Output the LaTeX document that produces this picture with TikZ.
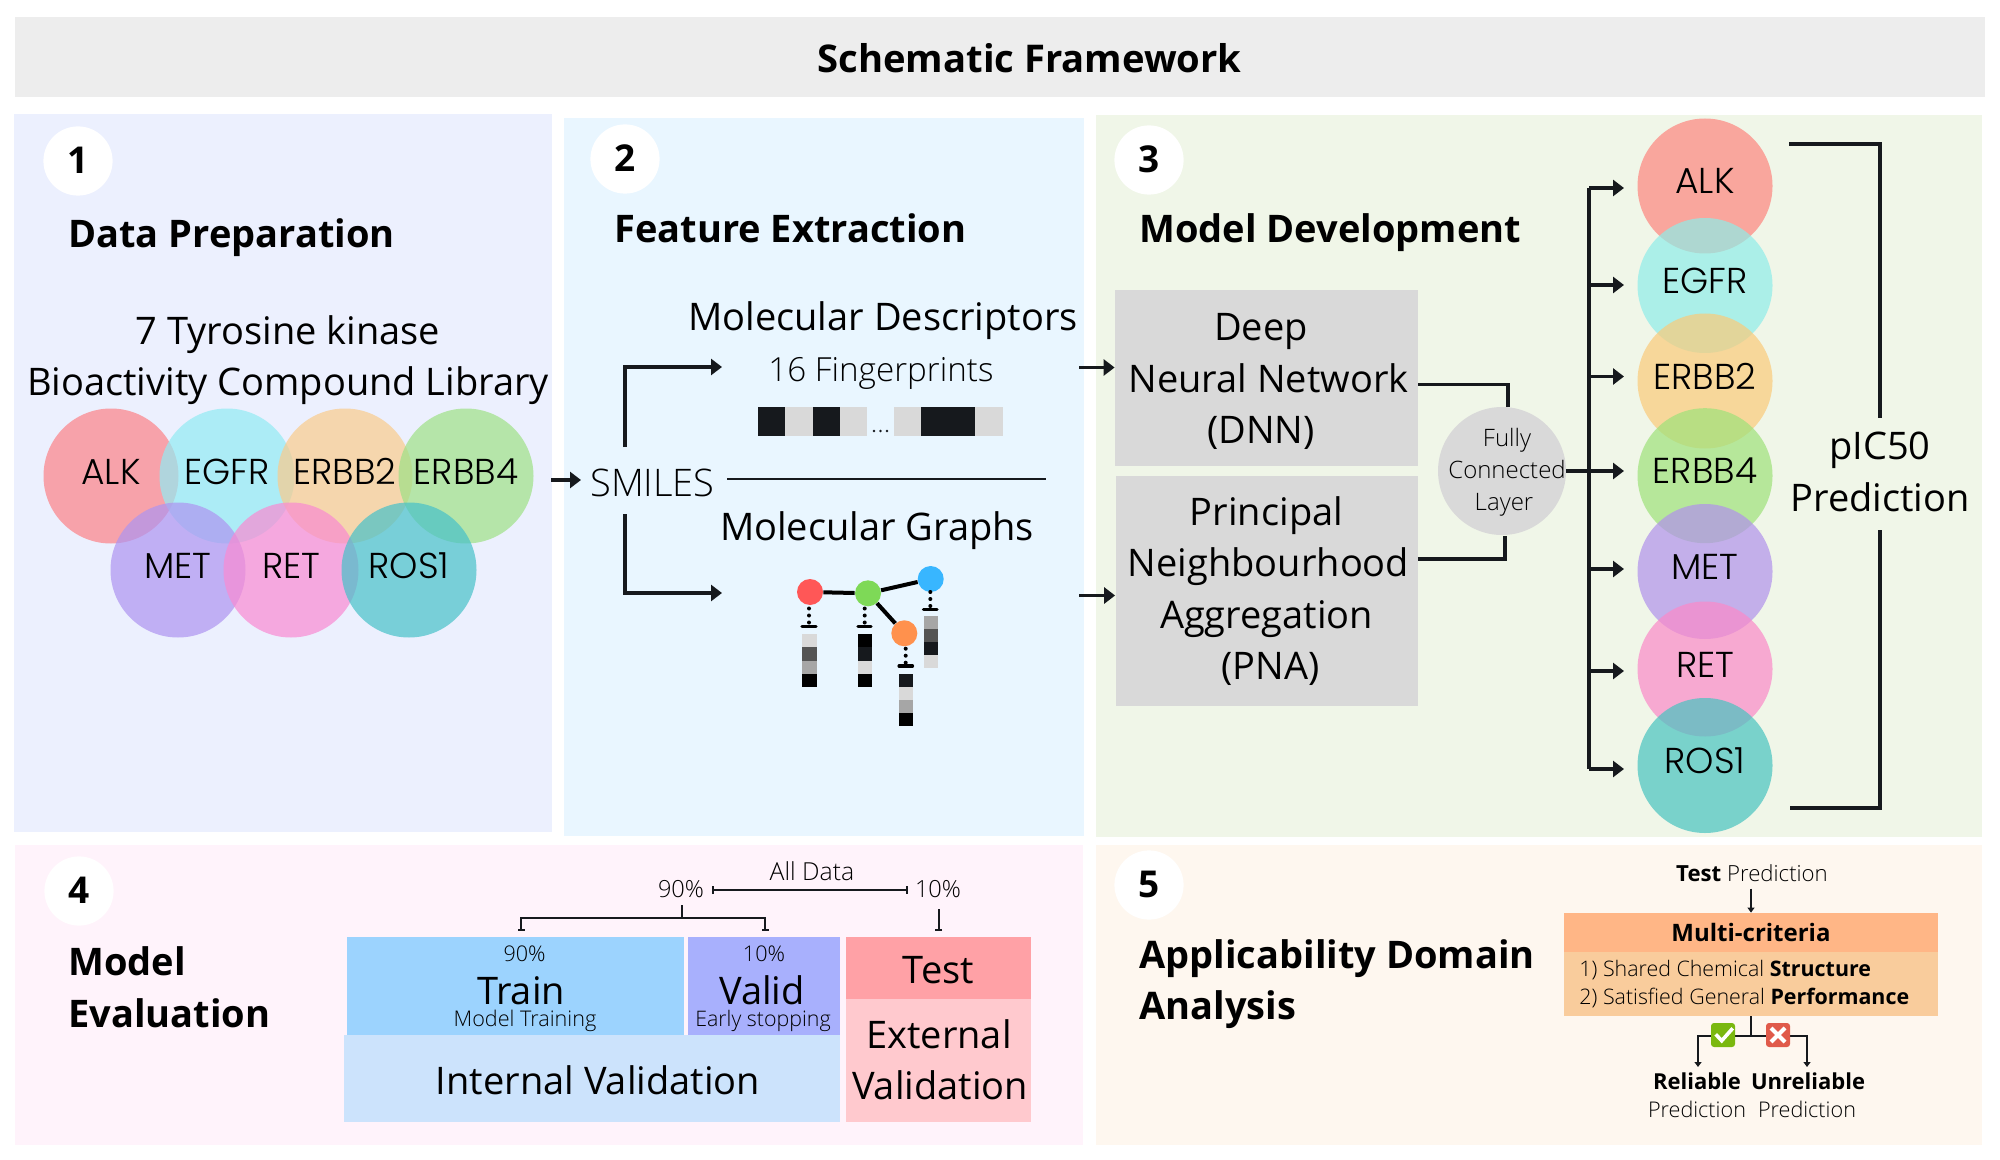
\documentclass[tikz,border=0pt]{standalone}
\usepackage{fontspec}
\usetikzlibrary{arrows.meta}
\setmainfont{Open Sans}
\newfontfamily\oslight{Open Sans Light}
\newfontfamily\circfont{Poppins Light}
\definecolor{pTitle}{HTML}{EDEDED}
\definecolor{pOne}{HTML}{ECF0FE}
\definecolor{pTwo}{HTML}{E9F6FF}
\definecolor{pThree}{HTML}{F0F6E8}
\definecolor{pFour}{HTML}{FFF3FB}
\definecolor{pFive}{HTML}{FEF7EF}
\definecolor{cALK}{RGB}{252,130,135}
\definecolor{cEGFR}{RGB}{146,235,243}
\definecolor{cERBBtwo}{RGB}{249,203,140}
\definecolor{cERBBfour}{RGB}{158,225,134}
\definecolor{cMET}{RGB}{174,148,241}
\definecolor{cRET}{RGB}{249,138,210}
\definecolor{cROS}{RGB}{71,193,201}
\definecolor{dALK}{RGB}{253,133,126}
\definecolor{dEGFR}{RGB}{143,237,232}
\definecolor{dERBBtwo}{RGB}{250,202,122}
\definecolor{dERBBfour}{RGB}{158,225,122}
\definecolor{dMET}{RGB}{177,145,236}
\definecolor{dRET}{RGB}{251,137,200}
\definecolor{dROS}{RGB}{71,195,192}
\definecolor{gBlk}{HTML}{16191D}
\definecolor{gLgt}{HTML}{D9D9D9}
\definecolor{gMid}{HTML}{A6A6A6}
\definecolor{gDrk}{HTML}{545454}
\definecolor{aRed}{HTML}{FF5757}
\definecolor{aGreen}{HTML}{7ED957}
\definecolor{aBlue}{HTML}{38B6FF}
\definecolor{aOrange}{HTML}{FF914D}
\definecolor{cTrain}{HTML}{9CD3FE}
\definecolor{cValid}{HTML}{A8B0FD}
\definecolor{cTest}{HTML}{FFA1A6}
\definecolor{cExt}{HTML}{FFC9CE}
\definecolor{cInt}{HTML}{CCE3FC}
\definecolor{cHead}{HTML}{FFB686}
\definecolor{cBody}{HTML}{F9CC9C}
\definecolor{cOk}{HTML}{7AB80F}
\definecolor{cNo}{HTML}{E05A4A}
\tikzset{
  x=0.5pt,y=-0.5pt,
  target/.style={circle,fill=#1,fill opacity=.7,text opacity=1,minimum size=67.5pt,inner sep=0pt,
    text height=13pt,text depth=5pt,font=\circfont\fontsize{18}{20}\selectfont},
  numdisc/.style={circle,fill=white,minimum size=34.6pt,inner sep=0pt,text height=12.5pt,text depth=0pt,font=\bfseries\fontsize{18.5}{20}\selectfont},
  head/.style={anchor=base west,inner sep=0pt,font=\bfseries\fontsize{19}{24}\selectfont},
  txt/.style={anchor=base,inner sep=0pt,font=\fontsize{19}{24}\selectfont},
  lighttxt/.style={anchor=base,inner sep=0pt,font=\oslight\fontsize{#1}{24}\selectfont},
  conn/.style={draw=gBlk,line width=1.75pt,-{Triangle[length=5.5pt,width=8pt]}},
  wire/.style={draw=gBlk,line width=1.75pt},
  thin wire/.style={draw=gBlk,line width=1pt},
  atom/.style={circle,fill=#1,minimum size=13pt,inner sep=0pt},
  bond/.style={draw=black,line width=2pt},
  dots/.style={draw=black,line width=2pt,line cap=round,dash pattern=on 0pt off 3.5pt},
  capbar/.style={draw=black,line width=1.6pt,line cap=round},
  gbox/.style={fill=gLgt,inner sep=0pt,align=center,font=\fontsize{19}{25.6}\selectfont},
  cellbox/.style={fill=#1,inner sep=0pt,align=center},
}
\begin{document}
\begin{tikzpicture}
\useasboundingbox (0,0) rectangle (2000,1160);
\fill[white] (0,0) rectangle (2000,1160);
% panels
\fill[pTitle] (15,17) rectangle (1985,97);
\fill[pOne] (14,114) rectangle (552,832);
\fill[pTwo] (564,118) rectangle (1084,836);
\fill[pThree] (1096,115) rectangle (1982,837);
\fill[pFour] (15,845) rectangle (1083,1145);
\fill[pFive] (1096,845) rectangle (1982,1145);
\node[anchor=base,inner sep=0pt,font=\bfseries\fontsize{19.1}{24}\selectfont] (title) at (1029.5,72.5) {Schematic Framework};
% numbers and headings
\node[numdisc] (n1) at (78,161) {1};
\node[numdisc] (n2) at (625,159) {2};
\node[numdisc] (n3) at (1149,160) {3};
\node[numdisc] (n4) at (79,891) {4};
\node[numdisc] (n5) at (1149,885) {5};
\node[head] (h1) at (68,248) {Data Preparation};
\node[head] (h2) at (614,243) {Feature Extraction};
\node[head] (h3) at (1139,243) {Model Development};
\node[head] (h4a) at (68,975) {Model};
\node[head] (h4b) at (68,1027) {Evaluation};
\node[head] (h5a) at (1139,968) {Applicability Domain};
\node[head] (h5b) at (1139,1019) {Analysis};
% panel 1
\node[txt] (lib1) at (288,344) {7 Tyrosine kinase};
\node[txt] (lib2) at (288,395) {Bioactivity Compound Library};
\node[target=cALK] (a1) at (111,476) {ALK};
\node[target=cEGFR] (a2) at (227,476) {EGFR};
\node[target=cERBBtwo] (a3) at (345,476) {ERBB2};
\node[target=cERBBfour] (a4) at (466,476) {ERBB4};
\node[target=cMET] (a5) at (178,570) {MET};
\node[target=cRET] (a6) at (291,570) {RET};
\node[target=cROS] (a7) at (409,570) {ROS1};
% panel 2
\node[lighttxt=19] (smiles) at (652.5,496) {SMILES};
\coordinate (inS) at (551,480);
\coordinate (inT) at (581,480);
\draw[conn] (inS) -- (inT);
\coordinate (upS) at (625,447);
\coordinate (upT) at (722,367);
\coordinate (dnS) at (625,514);
\coordinate (dnT) at (722,593);
\draw[conn] (upS) |- (upT);
\draw[conn] (dnS) |- (dnT);
\node[txt] (md) at (883,330) {Molecular Descriptors};
\node[lighttxt=16.6] (fp) at (881,381) {16 Fingerprints};
\foreach \xa/\xb/\c in {758/785/gBlk,785/812.5/gLgt,812.5/840/gBlk,840/867/gLgt,894/921/gLgt,921/948/gBlk,948/975/gBlk,975/1003/gLgt}
  \fill[\c] (\xa,407) rectangle (\xb,436);
\foreach \x in {874,880.5,887} \fill[gBlk] (\x,431) circle (0.7pt);
\coordinate (divL) at (727,479);
\coordinate (divR) at (1046,479);
\draw[draw=gBlk,line width=.9pt] (divL) -- (divR);
\node[txt] (mg) at (877,540) {Molecular Graphs};
\node[atom=aRed] (gr) at (810,592) {};
\node[atom=aGreen] (gg) at (868,593.3) {};
\node[atom=aBlue] (gb) at (930.7,579) {};
\node[atom=aOrange] (go) at (904.3,633.3) {};
\draw[bond] (gr) -- (gg);
\draw[bond] (gg) -- (gb);
\draw[bond] (gg) -- (go);
\draw[dots] (809,608.5) -- (809,623);
\draw[dots] (864.7,608.5) -- (864.7,623);
\draw[dots] (905.7,648.7) -- (905.7,663);
\draw[dots] (930.3,592) -- (930.3,606.5);
\draw[capbar] (802,626.5) -- (816,626.5);
\draw[capbar] (858,626.5) -- (871,626.5);
\draw[capbar] (899,666) -- (912.5,666);
\draw[capbar] (923.5,609.7) -- (937,609.7);
\foreach \c [count=\i from 0] in {gLgt,gDrk,gMid,black}
  \fill[\c] (802,634.3+13.1*\i) rectangle (816.5,647.4+13.1*\i);
\foreach \c [count=\i from 0] in {black,gBlk,gLgt,black}
  \fill[\c] (858,634.3+13.1*\i) rectangle (872.3,647.4+13.1*\i);
\foreach \c [count=\i from 0] in {gBlk,gLgt,gMid,black}
  \fill[\c] (899,673.7+13.1*\i) rectangle (913.3,686.8+13.1*\i);
\foreach \c [count=\i from 0] in {gMid,gDrk,gBlk,gLgt}
  \fill[\c] (923.7,615.7+13.1*\i) rectangle (938,628.8+13.1*\i);
\coordinate (feA) at (1079,367.5);
\coordinate (feB) at (1079,595.5);
% panel 3
\node[gbox,minimum width=151.5pt,minimum height=88pt] (dnn) at (1266.5,378) {};
\node[anchor=center,inner sep=0pt,align=center,font=\fontsize{19}{25.6}\selectfont] (dnnt) at (1266,381.5) {Deep\kern 5pt\\\kern 2.5pt Neural Network\\(DNN)\kern 5pt};
\node[gbox,minimum width=151pt,minimum height=115pt] (pna) at (1266.5,591) {};
\node[anchor=center,inner sep=0pt,align=center,font=\fontsize{19}{25.8}\selectfont] (pnat) at (1266.5,591) {Principal\\\kern 2pt Neighbourhood\\Aggregation\\\kern 4pt (PNA)};
\draw[conn] (feA) -- (dnn.west |- feA);
\draw[conn] (feB) -- (pna.west |- feB);
\node[circle,fill=gLgt,minimum size=64pt,inner sep=-10pt] (fc) at (1502,471) {};
\node[anchor=center,inner sep=0pt,align=center,font=\oslight\fontsize{12}{16}\selectfont] (fct) at (1507,472) {Fully\\Connected\\Layer\kern 3pt};
\draw[wire] (dnn.east |- 0,384.6) -| (1508,407);
\draw[wire] (pna.east |- 0,559) -| (1505,535.6);
\node[target=dALK] (t1) at (1705,186) {ALK};
\node[target=dEGFR] (t2) at (1705,285.5) {EGFR};
\node[target=dERBBtwo] (t3) at (1705,381) {ERBB2};
\node[target=dERBBfour] (t4) at (1705,475.7) {ERBB4};
\node[target=dMET] (t5) at (1705,571.5) {MET};
\node[target=dRET] (t6) at (1705,669) {RET};
\node[target=dROS] (t7) at (1705,765.5) {ROS1};
\coordinate (busT) at (1589,188);
\coordinate (busB) at (1589,769);
\coordinate (tip1) at (1624,188);
\coordinate (tip2) at (1624,285);
\coordinate (tip3) at (1624,376.5);
\coordinate (tip4) at (1624,471);
\coordinate (tip5) at (1624,569);
\coordinate (tip6) at (1624,671);
\coordinate (tip7) at (1624,769);
\draw[wire] (busT) -- (busB);
\draw[conn] (busT) -- (tip1);
\draw[conn] (busT |- tip2) -- (tip2);
\draw[conn] (busT |- tip3) -- (tip3);
\draw[conn] (fc.east |- tip4) -- (tip4);
\draw[conn] (busT |- tip5) -- (tip5);
\draw[conn] (busT |- tip6) -- (tip6);
\draw[conn] (busB) -- (tip7);
\node[inner sep=0pt,align=center,font=\fontsize{19}{26.2}\selectfont] (pic) at (1880,472) {pIC50\\Prediction};
\coordinate (brA) at (1789,144);
\coordinate (brB) at (1880,417.6);
\coordinate (brC) at (1880,530);
\coordinate (brD) at (1790,808);
\draw[wire,line width=2pt] (brA) -| (brB);
\draw[wire,line width=2pt] (brC) |- (brD);
% panel 4
\node[lighttxt=12.4] (alld) at (812,880) {All Data};
\node[lighttxt=11.8] (p90) at (681,897) {90\%};
\node[lighttxt=11.8] (p10) at (938,897) {10\%};
\coordinate (allL) at (712,890);
\coordinate (allR) at (908,890);
\draw[thin wire,{Bar[width=4pt]}-{Bar[width=4pt]}] (allL) -- (allR);
\coordinate (splitTop) at (681.5,905);
\coordinate (splitMid) at (681.5,917.7);
\coordinate (footL) at (521,931);
\coordinate (footR) at (765,931);
\draw[thin wire] (splitTop) -- (splitMid);
\draw[thin wire,-{Bar[width=3.5pt]}] (splitMid) -| (footL);
\draw[thin wire,-{Bar[width=3.5pt]}] (splitMid) -| (footR);
\coordinate (extTop) at (938.5,909);
\coordinate (extFoot) at (938.5,931);
\draw[thin wire,-{Bar[width=3.5pt]}] (extTop) -- (extFoot);
\node[cellbox=cTrain,minimum width=168.5pt,minimum height=49.15pt] (train) at (515.5,985.85) {};
\node[cellbox=cValid,minimum width=76.25pt,minimum height=49.15pt] (valid) at (763.75,985.85) {};
\node[cellbox=cInt,minimum width=248pt,minimum height=43.35pt] (int) at (592,1078.35) {};
\node[cellbox=cTest,minimum width=92.5pt,minimum height=31pt] (test) at (938.5,967.7) {};
\node[cellbox=cExt,minimum width=92.5pt,minimum height=61.5pt] (ext) at (938.5,1060.2) {};
\node[lighttxt=10.8] at (524.6,961.7) {90\%};
\node[lighttxt=10.8] at (764,961.7) {10\%};
\node[txt] at (521,1004) {Train};
\node[txt] at (762,1004) {Valid};
\node[lighttxt=10.8] at (525,1026) {Model Training};
\node[lighttxt=10.7] at (763,1026) {Early stopping};
\node[txt] at (938.5,983) {Test};
\node[txt] at (939,1048) {External};
\node[txt] at (940,1099) {Validation};
\node[txt] at (598,1094) {Internal Validation};
% panel 5
\node[anchor=base,inner sep=0pt,font=\fontsize{11.1}{14}\selectfont] (tp) at (1752,881) {\textbf{Test} {\oslight Prediction}};
\node[cellbox=cHead,minimum width=187pt,minimum height=19.35pt,font=\bfseries\fontsize{12}{14}\selectfont] (mc) at (1751,932.35) {Multi-criteria};
\node[cellbox=cBody,minimum width=187pt,minimum height=32pt] (mb) at (1751,983.7) {};
\node[anchor=base west,inner sep=0pt,font=\fontsize{10.7}{14}\selectfont] at (1579,976) {{\oslight 1) Shared Chemical }\textbf{Structure}};
\node[anchor=base west,inner sep=0pt,font=\fontsize{10.7}{14}\selectfont] at (1579,1004) {{\oslight 2) Satisfied General }\textbf{Performance}};
\draw[thin wire,-{Triangle[length=2.5pt,width=3.5pt]}] (tp.south -| mc.north) ++(0,7) -- (mc.north);
\coordinate (fork) at (1751,1036);
\coordinate (relTip) at (1698,1067);
\coordinate (unrTip) at (1807,1067);
\draw[thin wire] (mb.south) -- (fork);
\draw[thin wire,-{Triangle[length=2.5pt,width=3.5pt]}] (fork) -| (relTip);
\draw[thin wire,-{Triangle[length=2.5pt,width=3.5pt]}] (fork) -| (unrTip);
\node[fill=cOk,rounded corners=1.5pt,minimum size=12pt,inner sep=0pt] (ok) at (1723,1035) {};
\node[fill=cNo,rounded corners=1.5pt,minimum size=12pt,inner sep=0pt] (no) at (1778,1035) {};
\draw[white,line width=1.8pt] (1715.7,1034.3) -- (1721.7,1040.7) -- (1732.7,1028.3);
\draw[white,line width=2pt] (1771,1028) -- (1785,1042) (1785,1028) -- (1771,1042);
\node[anchor=base,inner sep=0pt,font=\bfseries\fontsize{11}{14}\selectfont] (rel) at (1697,1089) {Reliable};
\node[anchor=base,inner sep=0pt,font=\bfseries\fontsize{11}{14}\selectfont] (unr) at (1808,1089) {Unreliable};
\node[lighttxt=10.8] at (1697,1117.5) {Prediction};
\node[lighttxt=10.8] at (1807,1117.5) {Prediction};
\end{tikzpicture}
\end{document}
